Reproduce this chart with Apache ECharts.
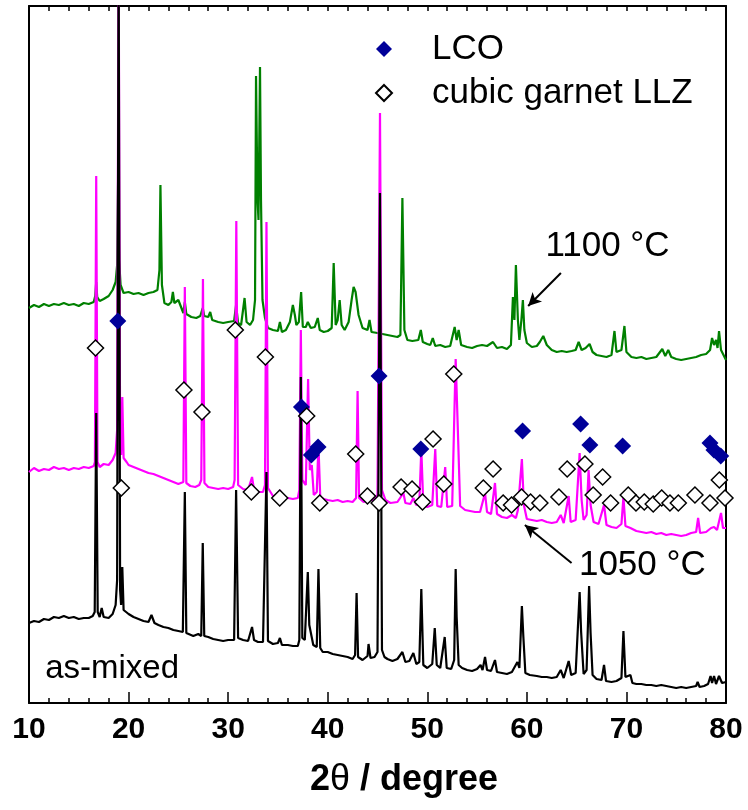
<!DOCTYPE html>
<html>
<head>
<meta charset="utf-8">
<title>XRD patterns</title>
<script src="https://cdn.jsdelivr.net/npm/echarts@6.0.0/dist/echarts.min.js"></script>
<style>
  html, body { margin: 0; padding: 0; background: #ffffff; }
  #chart { width: 748px; height: 810px; }
</style>
</head>
<body>
<div id="chart"></div>
<script>
// ---- diffraction patterns: [2theta (deg), intensity (a.u., stacked offsets)] ----
const asMixed = [
  [10,80],[10.5,82],[11,81],[11.5,84],[12,83],[12.5,86],[13,85],[13.5,87],[14,85],[14.5,86],
  [15,84],[15.5,85],[16,85],[16.4,87],[16.6,91],[16.75,290],[16.9,91],[17.1,86],[17.3,95],[17.5,86],
  [18,85],[18.4,89],[18.7,98],[18.85,123],[19.0,760],[19.15,113],[19.25,98],[19.37,136],[19.5,93],[20,89],
  [20.5,86],[21,84],[21.5,82],[22,81],[22.3,88],[22.6,80],[23,78],[23.5,76],[24,75],[24.5,73],
  [25,72],[25.45,71],[25.65,211],[25.8,70],[26,68],[26.5,67],[27,69],[27.3,67],[27.45,160],[27.6,67],
  [28,66],[28.5,64],[29,63],[29.5,62],[30,63],[30.6,63],[30.8,213],[31.0,65],[31.5,63],[32,62],
  [32.4,76],[32.6,63],[33,61],[33.5,61],[33.7,63],[33.85,231],[34.0,62],[34.5,59],[35,60],[35.2,65],
  [35.4,58],[36,58],[36.5,57],[37,57],[37.15,63],[37.3,326],[37.45,65],[37.7,63],[38.0,131],[38.15,78],
  [38.35,76],[38.55,58],[38.9,56],[39.07,134],[39.25,55],[39.5,51],[40,51],[40.5,49],[41,48],[41.5,47],
  [42,46],[42.5,44],[42.75,48],[42.9,110],[43.05,46],[43.5,43],[44,47],[44.1,59],[44.3,45],[44.7,46],
  [45.0,51],[45.25,510],[45.45,53],[45.7,46],[46,44],[46.5,42],[47,44],[47.5,51],[47.8,41],[48.2,42],
  [48.6,50],[48.9,39],[49.2,41],[49.4,114],[49.6,38],[50,35],[50.5,39],[50.75,75],[50.95,38],[51.3,35],
  [51.75,66],[51.95,35],[52.4,34],[52.7,43],[52.85,134],[52.95,86],[53.15,38],[53.5,35],[54,33],[54.5,32],
  [55,34],[55.35,38],[55.55,33],[55.8,46],[56.0,33],[56.4,32],[56.8,43],[57.0,31],[57.5,30],[58,29],
  [58.5,31],[59.05,41],[59.25,35],[59.5,97],[59.65,66],[59.85,30],[60.3,28],[61,27],[61.5,26],[62,26],
  [62.5,25],[63,26],[63.4,33],[63.7,25],[64.2,42],[64.45,28],[64.9,30],[65.3,111],[65.45,71],[65.7,29],
  [66.0,33],[66.25,117],[66.4,70],[66.6,28],[67,24],[67.5,23],[67.75,38],[67.95,22],[68.5,21],[69,22],
  [69.5,25],[69.7,72],[69.9,26],[70.4,28],[70.6,20],[71,19],[71.5,19],[72,18],[72.5,18],[73,17],
  [73.5,18],[74,17],[74.5,16],[75,15],[75.5,16],[76,15],[76.5,16],[77,17],[77.15,21],[77.35,16],
  [77.8,17],[78.2,19],[78.45,27],[78.6,20],[78.8,27],[79.0,19],[79.3,27],[79.6,20],[80,21]
];

const sintered1050 = [
  [10,231],[10.5,235],[11,232],[11.5,234],[12,233],[12.5,236],[13,234],[13.5,235],[14,233],[14.5,235],
  [15,234],[15.5,236],[16,235],[16.5,237],[16.62,241],[16.75,527],[16.88,241],[17.1,236],[17.5,239],[18,238],
  [18.4,243],[18.7,250],[18.85,273],[19.0,760],[19.15,263],[19.25,248],[19.37,306],[19.5,245],[19.8,241],[20,238],
  [20.5,236],[21,234],[21.5,232],[22,230],[22.5,229],[23,227],[23.5,225],[24,223],[24.5,221],[25,219],
  [25.5,221],[25.65,416],[25.8,220],[26.2,217],[26.7,216],[27.1,218],[27.3,223],[27.47,424],[27.62,220],[28,216],
  [28.5,215],[29,214],[29.5,215],[30,214],[30.5,216],[30.65,223],[30.82,482],[31.0,218],[31.5,214],[32,213],
  [32.4,226],[32.6,213],[33,211],[33.5,211],[33.7,218],[33.85,481],[34.0,215],[34.5,207],[35,206],[35.2,213],
  [35.4,206],[36,205],[36.5,204],[37,205],[37.15,213],[37.3,373],[37.45,223],[37.8,218],[38.03,324],[38.2,233],
  [38.4,238],[38.6,208],[38.9,211],[39.07,258],[39.25,206],[39.6,204],[40,203],[40.5,202],[41,203],[41.5,201],
  [42,202],[42.5,201],[42.85,205],[43.0,312],[43.15,205],[43.6,201],[44,203],[44.2,209],[44.5,202],[45.0,208],
  [45.25,590],[45.45,213],[45.8,203],[46.3,200],[47,201],[47.6,210],[47.8,200],[48.3,199],[48.6,205],[48.9,198],
  [49.2,200],[49.4,254],[49.6,198],[50,196],[50.5,198],[50.8,254],[51.0,197],[51.4,196],[51.8,236],[52.0,196],
  [52.5,197],[52.85,344],[53.1,263],[53.3,197],[53.8,193],[54.3,192],[54.8,191],[55.3,191],[55.5,193],[55.8,210],
  [56.0,191],[56.4,189],[56.8,220],[57.0,189],[57.5,186],[58,185],[58.5,188],[58.9,185],[59.1,193],[59.5,244],
  [59.7,198],[60,184],[60.5,183],[61,182],[61.5,183],[62,181],[62.5,180],[63,181],[63.4,188],[63.7,180],
  [64.2,207],[64.4,181],[64.9,183],[65.3,250],[65.5,203],[65.7,183],[66.0,188],[66.2,233],[66.4,198],[66.7,181],
  [67.2,179],[67.75,198],[68.0,178],[68.5,176],[69,175],[69.5,179],[69.7,206],[69.9,177],[70.4,175],[71,172],
  [71.5,171],[72,170],[72.5,171],[73,169],[73.5,170],[74,168],[74.5,169],[75,168],[75.5,167],[76,168],
  [76.5,170],[77,171],[77.2,185],[77.4,170],[78,171],[78.5,175],[78.8,176],[79.1,173],[79.5,190],[79.7,175],
  [80,175]
];

const sintered1100 = [
  [10,395],[10.5,398],[11,396],[11.5,399],[12,397],[12.5,399],[13,398],[13.5,400],[14,398],[14.5,399],
  [15,397],[15.5,400],[16,399],[16.5,401],[16.65,407],[16.75,421],[16.85,406],[17.1,402],[17.5,404],[18,407],
  [18.4,413],[18.7,421],[18.85,438],[18.95,523],[19.05,443],[19.2,418],[19.5,410],[20,411],[20.5,409],[21,410],
  [21.5,408],[22,410],[22.5,411],[22.9,413],[23.1,433],[23.2,518],[23.35,418],[23.6,400],[24,398],[24.3,401],
  [24.45,411],[24.6,400],[25.0,403],[25.1,401],[25.5,390],[25.65,401],[25.8,389],[26.3,386],[26.8,385],[27.2,387],
  [27.45,395],[27.6,387],[28.0,386],[28.2,391],[28.4,383],[29,381],[29.5,380],[30,381],[30.6,382],[30.8,398],
  [31.0,380],[31.3,378],[31.65,405],[31.85,381],[32.2,378],[32.5,383],[32.7,403],[32.8,627],[32.95,503],[33.05,483],
  [33.2,636],[33.3,503],[33.45,403],[33.7,385],[34.0,375],[34.5,373],[35,372],[35.2,381],[35.4,371],[35.8,373],
  [36.2,381],[36.5,398],[36.7,388],[36.85,378],[37.1,381],[37.33,411],[37.5,376],[37.8,376],[38.0,381],[38.3,375],
  [38.7,376],[39.0,385],[39.2,373],[39.6,371],[40.0,372],[40.4,375],[40.6,440],[40.8,378],[41.0,383],[41.2,403],
  [41.4,378],[41.7,373],[42.1,381],[42.4,403],[42.6,416],[42.8,411],[43.1,388],[43.5,375],[44.0,373],[44.2,383],
  [44.4,371],[45.0,370],[45.5,369],[46,368],[46.5,367],[47.0,366],[47.3,368],[47.5,505],[47.7,373],[48.0,363],
  [48.5,362],[49.1,363],[49.35,373],[49.55,361],[50.0,359],[50.3,358],[50.55,365],[50.8,357],[51.3,358],[51.8,356],
  [52.3,357],[52.75,376],[52.95,363],[53.15,373],[53.4,358],[54.0,356],[54.5,355],[55.0,357],[55.5,358],[56.0,357],
  [56.6,361],[57.0,355],[57.5,356],[58.0,354],[58.4,358],[58.6,406],[58.75,383],[58.9,438],[59.1,383],[59.25,363],
  [59.45,383],[59.6,403],[59.75,373],[60.0,360],[60.5,356],[61.0,357],[61.3,361],[61.65,367],[62.0,358],[62.5,353],
  [63.0,351],[63.5,352],[64.0,351],[64.5,352],[64.9,353],[65.2,361],[65.5,353],[65.9,355],[66.3,359],[66.6,351],
  [67.0,348],[67.5,347],[68.0,346],[68.5,348],[68.8,372],[69.0,351],[69.5,353],[69.8,377],[70.0,351],[70.5,346],
  [71.0,345],[71.5,346],[72.0,344],[72.5,345],[73.0,346],[73.6,354],[73.9,347],[74.2,353],[74.5,346],[75.0,344],
  [75.5,343],[76.0,344],[76.5,345],[77.0,346],[77.5,348],[78.0,349],[78.4,353],[78.6,365],[78.8,358],[79.0,363],
  [79.15,355],[79.3,372],[79.5,353],[80.0,343]
];

// ---- reference reflections (marker positions) ----
const lcoRefl = [
  [18.92,382],[37.36,296],[38.36,248],[39.03,256],[45.16,327],[49.35,254],[59.57,272],
  [65.40,279],[66.33,258],[69.62,257],[78.39,260],[78.79,253],[79.47,247]
];

const llzRefl = [
  [16.68,355],[19.27,215],[25.56,313],[27.37,291],[30.72,373],[32.33,211],[33.74,346],[35.18,205],
  [37.89,287],[39.2,200],[42.81,249],[43.99,207],[45.16,200],[47.37,216],[48.47,214],[49.52,201],
  [50.58,264],[51.66,219],[52.66,329],[55.63,215],[56.61,234],[57.62,200],[58.46,198],[59.47,206],
  [60.37,201],[61.31,200],[63.22,206],[64.05,234],[65.83,239],[66.66,208],[67.61,226],[68.41,200],
  [70.18,208],[70.96,200],[71.79,201],[72.69,199],[73.54,205],[74.37,200],[75.21,200],[76.88,208],
  [78.39,200],[79.33,223],[79.9,205]
];

const seriesNames = ['as-mixed', '1050 °C', '1100 °C'];
const legendNames = ['LCO', 'cubic garnet LLZ'];

// annotation anchors in data coordinates
const notes = [
  { text: '1100 °C', at: [68.1, 457], size: 35 },
  { text: '1050 °C', at: [71.6, 138], size: 35 },
  { text: 'as-mixed', at: [18.35, 34], size: 33 }
];
const arrow1100 = [[63.42, 430], [60.13, 397]];
const arrow1050 = [[64.49, 140], [59.80, 178]];

const FONT = '"Liberation Sans", Arial, Helvetica, sans-serif';

const chart = echarts.init(document.getElementById('chart'), null, { renderer: 'canvas' });

function arrowLine(pts) {
  return {
    silent: true,
    animation: false,
    symbol: ['none', 'arrow'],
    symbolSize: [10, 13],
    label: { show: false },
    lineStyle: { color: '#000', width: 2, type: 'solid' },
    emphasis: { disabled: true },
    data: [[{ coord: pts[0] }, { coord: pts[1] }]]
  };
}

const axisLineStyle = { color: '#000', width: 2 };
const TRACE_WIDTH = 2.2;

const option = {
  animation: false,
  backgroundColor: '#ffffff',
  grid: { left: 29, right: 22, top: 6, bottom: 107, containLabel: false },
  legend: {
    data: legendNames,
    orient: 'vertical',
    left: 370,
    top: 24,
    itemWidth: 16,
    itemHeight: 16,
    itemGap: 4,
    selectedMode: false,
    textStyle: { fontSize: 35, fontFamily: FONT, color: '#000', lineHeight: 40, padding: [0, 0, 0, 35] }
  },
  xAxis: [
    {
      type: 'value', position: 'bottom', min: 10, max: 80, interval: 10,
      axisLine: { show: true, onZero: false, lineStyle: axisLineStyle },
      axisTick: { show: true, inside: true, length: 11, lineStyle: { color: '#000', width: 1.5 } },
      minorTick: { show: true, splitNumber: 5, length: 5, lineStyle: { color: '#000', width: 1.5 } },
      splitLine: { show: false },
      axisLabel: { color: '#000', fontSize: 30, fontWeight: 'bold', fontFamily: FONT, margin: 12 },
      name: '{b|2}{t|θ}{b| / degree}',
      nameLocation: 'middle',
      nameGap: 59,
      nameTextStyle: {
        padding: [0, 0, 0, 53],
        rich: {
          b: { fontSize: 36, fontWeight: 'bold', fontFamily: FONT, color: '#000' },
          t: { fontSize: 36, fontFamily: FONT, color: '#000' }
        }
      }
    },
    {
      type: 'value', position: 'top', min: 10, max: 80, interval: 10,
      axisLine: { show: true, onZero: false, lineStyle: axisLineStyle },
      axisTick: { show: true, inside: true, length: 5, lineStyle: { color: '#000', width: 1.5 } },
      minorTick: { show: true, splitNumber: 5, length: 5, lineStyle: { color: '#000', width: 1.5 } },
      splitLine: { show: false },
      axisLabel: { show: false }
    }
  ],
  yAxis: [
    {
      type: 'value', position: 'left', min: 0, max: 697,
      axisLine: { show: true, onZero: false, lineStyle: axisLineStyle },
      axisTick: { show: false }, axisLabel: { show: false }, splitLine: { show: false }
    },
    {
      type: 'value', position: 'right', min: 0, max: 697,
      axisLine: { show: true, onZero: false, lineStyle: axisLineStyle },
      axisTick: { show: false }, axisLabel: { show: false }, splitLine: { show: false }
    }
  ],
  series: [
    {
      name: seriesNames[2], type: 'line', data: sintered1100, symbol: 'none', z: 2, clip: true,
      lineStyle: { color: '#008000', width: TRACE_WIDTH }, emphasis: { disabled: true },
      markLine: arrowLine(arrow1100)
    },
    {
      name: seriesNames[1], type: 'line', data: sintered1050, symbol: 'none', z: 3, clip: true,
      lineStyle: { color: '#ff00ff', width: TRACE_WIDTH }, emphasis: { disabled: true },
      markLine: arrowLine(arrow1050)
    },
    {
      name: seriesNames[0], type: 'line', data: asMixed, symbol: 'none', z: 4, clip: true,
      lineStyle: { color: '#000000', width: TRACE_WIDTH }, emphasis: { disabled: true }
    },
    {
      name: legendNames[0], type: 'scatter', data: lcoRefl, symbol: 'diamond', symbolSize: 17, z: 5,
      itemStyle: { color: '#000099', opacity: 1 }, emphasis: { disabled: true }
    },
    {
      name: legendNames[1], type: 'scatter', data: llzRefl, symbol: 'diamond', symbolSize: 16, z: 6,
      itemStyle: { color: '#ffffff', borderColor: '#000000', borderWidth: 1.5, opacity: 1 }, emphasis: { disabled: true }
    }
  ]
};

chart.setOption(option);

// text annotations placed through the axis scales
chart.setOption({
  graphic: notes.map(n => {
    const p = chart.convertToPixel({ xAxisIndex: 0, yAxisIndex: 0 }, n.at);
    return {
      type: 'text', x: p[0], y: p[1], z: 10, silent: true,
      style: { text: n.text, fill: '#000', font: n.size + 'px ' + FONT, textAlign: 'center', textVerticalAlign: 'middle' }
    };
  })
});
</script>
</body>
</html>
